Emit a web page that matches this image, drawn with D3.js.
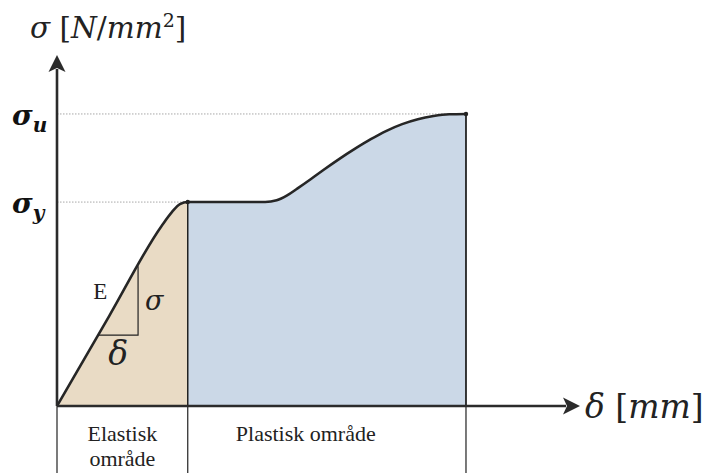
<!DOCTYPE html>
<html>
<head>
<meta charset="utf-8">
<script src="https://cdn.jsdelivr.net/npm/d3@7"></script>
<style>
  html, body { margin: 0; padding: 0; background: #fff; }
  svg { display: block; }
</style>
</head>
<body>
<div id="chart"></div>
<script>
// ---- data (arbitrary units of deformation δ and stress σ) ----
const elasticDelta = [0, 10, 20, 22, 23.5, 25];
const elasticSigma = [0, 25.7, 51.3, 55.3, 57.5, 58.1];
const plasticDelta = [25, 39.8, 42, 44, 46, 48.5, 51, 54, 57, 60, 63, 66, 69, 72, 75, 78.2];
const plasticSigma = [58.1, 58.1, 58.6, 60.0, 62.0, 64.6, 67.3, 70.4, 73.3, 76.0, 78.4, 80.3, 81.7, 82.6, 83.1, 83.2];
const sigmaY = 58.1;
const sigmaU = 83.2;
const triangleDelta = [7.9, 15.5];
const triangleSigma = [20.2, 39.8];
const regionNames = [["Elastisk", "område"], ["Plastisk område"]];
const regionBounds = [[0, 25], [25, 78.2]];

const W = 708, H = 473;
const svg = d3.select("#chart").append("svg").attr("width", W).attr("height", H);

const x = d3.scaleLinear().domain([0, 100]).range([57, 580]);
const y = d3.scaleLinear().domain([0, 100]).range([406, 55]);

const elastic = elasticDelta.map((d, i) => [d, elasticSigma[i]]);
const plastic = plasticDelta.map((d, i) => [d, plasticSigma[i]]);

const area = d3.area().x(d => x(d[0])).y0(y(0)).y1(d => y(d[1])).curve(d3.curveMonotoneX);
const line = d3.line().x(d => x(d[0])).y(d => y(d[1])).curve(d3.curveMonotoneX);

svg.append("path").attr("d", area(elastic)).attr("fill", "#e9dbc5");
svg.append("path").attr("d", area(plastic)).attr("fill", "#cbd8e7");

// dotted reference lines
svg.append("line").attr("x1", x(0)).attr("x2", x(regionBounds[1][1]))
  .attr("y1", y(sigmaU)).attr("y2", y(sigmaU))
  .attr("stroke", "#a8a8a8").attr("stroke-width", 1).attr("stroke-dasharray", "1.5,1.5");
svg.append("line").attr("x1", x(0)).attr("x2", x(regionBounds[0][1]))
  .attr("y1", y(sigmaY)).attr("y2", y(sigmaY))
  .attr("stroke", "#a8a8a8").attr("stroke-width", 1).attr("stroke-dasharray", "1.5,1.5");

// vertical region separators inside the chart
svg.append("line").attr("x1", x(regionBounds[0][1])).attr("x2", x(regionBounds[0][1]))
  .attr("y1", y(sigmaY)).attr("y2", y(0)).attr("stroke", "#222").attr("stroke-width", 1.5);
svg.append("line").attr("x1", x(regionBounds[1][1])).attr("x2", x(regionBounds[1][1]))
  .attr("y1", y(sigmaU)).attr("y2", y(0)).attr("stroke", "#222").attr("stroke-width", 1.8);

// table lines below axis
[0, regionBounds[0][1], regionBounds[1][1]].forEach(v => {
  svg.append("line").attr("x1", x(v)).attr("x2", x(v)).attr("y1", y(0)).attr("y2", H)
    .attr("stroke", "#222").attr("stroke-width", 1.2);
});

// curve
svg.append("path").attr("d", line(elastic.concat(plastic.slice(1))))
  .attr("fill", "none").attr("stroke", "#262626").attr("stroke-width", 2.6)
  .attr("stroke-linejoin", "round");
[[regionBounds[0][1], sigmaY], [regionBounds[1][1], sigmaU]].forEach(p => {
  svg.append("circle").attr("cx", x(p[0])).attr("cy", y(p[1])).attr("r", 2.2).attr("fill", "#222");
});

// slope triangle
svg.append("path")
  .attr("d", `M${x(triangleDelta[0])},${y(triangleSigma[0])}H${x(triangleDelta[1])}V${y(triangleSigma[1])}`)
  .attr("fill", "none").attr("stroke", "#222").attr("stroke-width", 1.2);
svg.append("text").attr("x", x(triangleDelta[0]) - 5).attr("y", y(triangleSigma[1]) + 33)
  .attr("font-family", "Liberation Serif").attr("font-size", 23).attr("fill", "#222").text("E");
svg.append("text").attr("x", x(triangleDelta[1]) + 7).attr("y", y(triangleSigma[1]) + 44)
  .attr("font-family", "DejaVu Serif").attr("font-style", "italic").attr("font-size", 27).attr("fill", "#222").text("σ");
svg.append("text").attr("x", (x(triangleDelta[0]) + x(triangleDelta[1])) / 2).attr("y", y(triangleSigma[0]) + 30)
  .attr("text-anchor", "middle")
  .attr("font-family", "DejaVu Serif").attr("font-style", "italic").attr("font-size", 33).attr("fill", "#222").text("δ");

// axes with arrows
const axisColor = "#2b2b2b";
svg.append("line").attr("x1", x(0)).attr("x2", x(0)).attr("y1", y(0)).attr("y2", y(100) + 14)
  .attr("stroke", axisColor).attr("stroke-width", 2.6);
svg.append("path").attr("d", `M${x(0)},${y(100)}L${x(0) - 8.5},${y(100) + 17}L${x(0)},${y(100) + 13}L${x(0) + 8.5},${y(100) + 17}Z`)
  .attr("fill", axisColor);
svg.append("line").attr("x1", x(0)).attr("x2", x(100) - 14).attr("y1", y(0)).attr("y2", y(0))
  .attr("stroke", axisColor).attr("stroke-width", 2.6);
svg.append("path").attr("d", `M${x(100)},${y(0)}L${x(100) - 17},${y(0) - 8.5}L${x(100) - 13},${y(0)}L${x(100) - 17},${y(0) + 8.5}Z`)
  .attr("fill", axisColor);

// axis titles
const yt = svg.append("text").attr("x", 30).attr("y", 38)
  .attr("font-family", "DejaVu Serif").attr("font-size", 29.5).attr("fill", "#222");
yt.append("tspan").attr("font-style", "italic").text("σ");
yt.append("tspan").text(" [");
yt.append("tspan").attr("font-style", "italic").text("N");
yt.append("tspan").text("/");
yt.append("tspan").attr("font-style", "italic").text("mm");
yt.append("tspan").attr("font-size", 19).attr("dy", -11).text("2");
yt.append("tspan").attr("dy", 11).text("]");

const xt = svg.append("text").attr("x", 585).attr("y", 418)
  .attr("font-family", "DejaVu Serif").attr("font-size", 33).attr("fill", "#222");
xt.append("tspan").attr("font-style", "italic").text("δ");
xt.append("tspan").text(" [");
xt.append("tspan").attr("font-style", "italic").text("mm");
xt.append("tspan").text("]");

// σ_u and σ_y labels
[[sigmaU, "u"], [sigmaY, "y"]].forEach(([v, sub]) => {
  const t = svg.append("text").attr("x", 12).attr("y", y(v) + 11)
    .attr("font-family", "DejaVu Serif").attr("font-weight", "bold").attr("font-style", "italic")
    .attr("font-size", 28).attr("fill", "#111");
  t.append("tspan").text("σ");
  t.append("tspan").attr("font-size", 20).attr("dy", 7).text(sub);
});

// region labels below axis
regionNames.forEach((lines, i) => {
  const cx = i === 0 ? (x(regionBounds[i][0]) + x(regionBounds[i][1])) / 2 : x(regionBounds[i][0]) + 118;
  lines.forEach((s, j) => {
    svg.append("text").attr("x", cx).attr("y", 441 + j * 25).attr("text-anchor", "middle")
      .attr("font-family", "Liberation Serif").attr("font-size", 22).attr("fill", "#222").text(s);
  });
});
</script>
</body>
</html>
